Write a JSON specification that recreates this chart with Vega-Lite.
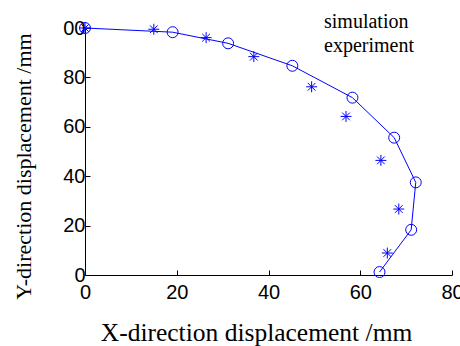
{
  "$schema": "https://vega.github.io/schema/vega-lite/v6.json",
  "width": 367,
  "height": 247,
  "autosize": "none",
  "padding": {"left": 85, "top": 28, "right": 8, "bottom": 71},
  "background": "white",
  "config": {"view": {"stroke": null}},
  "data": {"values": [
    {"series": "simulation", "i": 0, "x": 0, "y": 100},
    {"series": "simulation", "i": 1, "x": 19.1, "y": 98.3},
    {"series": "simulation", "i": 2, "x": 31.2, "y": 93.8},
    {"series": "simulation", "i": 3, "x": 45.2, "y": 84.7},
    {"series": "simulation", "i": 4, "x": 58.3, "y": 71.8},
    {"series": "simulation", "i": 5, "x": 67.4, "y": 55.6},
    {"series": "simulation", "i": 6, "x": 72.1, "y": 37.5},
    {"series": "simulation", "i": 7, "x": 71.1, "y": 18.3},
    {"series": "simulation", "i": 8, "x": 64.2, "y": 1.2},
    {"series": "experiment", "i": 0, "x": 0, "y": 100},
    {"series": "experiment", "i": 1, "x": 15.0, "y": 99.5},
    {"series": "experiment", "i": 2, "x": 26.4, "y": 96.1},
    {"series": "experiment", "i": 3, "x": 36.8, "y": 88.4},
    {"series": "experiment", "i": 4, "x": 49.4, "y": 76.2},
    {"series": "experiment", "i": 5, "x": 56.9, "y": 64.2},
    {"series": "experiment", "i": 6, "x": 64.5, "y": 46.4},
    {"series": "experiment", "i": 7, "x": 68.4, "y": 26.7},
    {"series": "experiment", "i": 8, "x": 65.9, "y": 8.9}
  ]},
  "encoding": {
    "x": {"field": "x", "type": "quantitative",
      "scale": {"domain": [0, 80], "nice": false},
      "axis": {"values": [0, 20, 40, 60, 80], "grid": false, "domainColor": "black", "tickColor": "black",
        "tickSize": -5, "labelPadding": 12, "labelFlush": false, "labelOverlap": false,
        "labelFont": "Liberation Sans", "labelFontSize": 20, "labelColor": "black",
        "title": "X-direction displacement /mm", "titleFont": "Liberation Serif", "titleFontSize": 25.5,
        "titleFontWeight": "normal", "titleColor": "black",
        "titleX": 171, "titleY": 65, "titleBaseline": "alphabetic", "titleAlign": "center"}},
    "y": {"field": "y", "type": "quantitative",
      "scale": {"domain": [0, 100], "nice": false},
      "axis": {"values": [0, 20, 40, 60, 80, 100], "grid": false, "domainColor": "black", "tickColor": "black",
        "tickSize": -5, "labelPadding": 5, "labelFlush": false, "labelOverlap": false,
        "labelFont": "Liberation Sans", "labelFontSize": 20, "labelColor": "black",
        "labelExpr": "datum.value == 100 ? '00' : datum.label",
        "title": "Y-direction displacement /mm", "titleFont": "Liberation Serif", "titleFontSize": 22,
        "titleFontWeight": "normal", "titleColor": "black",
        "titleX": -62, "titleY": 138, "titleBaseline": "middle", "titleAlign": "center", "titleAngle": -90}}
  },
  "layer": [
    {
      "transform": [{"filter": "datum.series == 'simulation'"}],
      "mark": {"type": "line", "color": "blue", "strokeWidth": 1},
      "encoding": {"order": {"field": "i", "type": "quantitative"}}
    },
    {
      "mark": {"type": "point", "filled": false, "color": "blue", "strokeWidth": 1, "opacity": 1, "size": 120},
      "encoding": {
        "shape": {"field": "series", "type": "nominal",
          "scale": {"domain": ["simulation", "experiment"],
            "range": ["circle", "M-1,0L1,0M0,-1L0,1M-0.7,-0.7L0.7,0.7M-0.7,0.7L0.7,-0.7"]},
          "legend": {"orient": "none", "legendX": 219, "legendY": -16, "title": null,
            "symbolOpacity": 0, "symbolStrokeColor": "white", "symbolSize": 1, "labelOffset": 0,
            "labelFont": "Liberation Serif", "labelFontSize": 20, "labelColor": "black",
            "rowPadding": 4, "padding": 0}}
      }
    }
  ]
}
